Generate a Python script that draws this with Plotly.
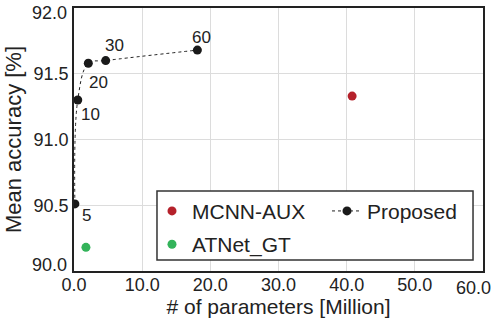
import plotly.graph_objects as go

# Data
prop_params = [0.13, 0.55, 2.1, 4.65, 18.1]
prop_acc = [90.51, 91.30, 91.58, 91.60, 91.68]
prop_labels = ["5", "10", "20", "30", "60"]
mcnn_params = [40.8]
mcnn_acc = [91.33]
atnet_params = [1.75]
atnet_acc = [90.18]
x_ticks = [0, 10, 20, 30, 40, 50, 60]
x_tick_labels = ["0.0", "10.0", "20.0", "30.0", "40.0", "50.0", "60.0"]
y_ticks = [90.0, 90.5, 91.0, 91.5, 92.0]
y_tick_labels = ["90.0", "90.5", "91.0", "91.5", "92.0"]

# label offsets (px)
label_dx = [12, 13, 10, 9, 4]
label_dy = [-12, -14, -19, 15, 13]

FONT = "Liberation Sans, Arial, sans-serif"
TXT = "#222222"
fig = go.Figure()
fig.add_trace(go.Scatter(x=mcnn_params, y=mcnn_acc, mode="markers", name="MCNN-AUX",
                         legend="legend", legendgroup="a",
                         marker=dict(color="#b5212b", size=9)))
fig.add_trace(go.Scatter(x=atnet_params, y=atnet_acc, mode="markers", name="ATNet_GT",
                         legend="legend", legendgroup="b",
                         marker=dict(color="#33b35a", size=9)))
fig.add_trace(go.Scatter(x=prop_params, y=prop_acc, mode="lines+markers", name="Proposed",
                         legend="legend2",
                         line=dict(color="#222222", width=1, dash="dot", shape="spline", smoothing=1),
                         marker=dict(color="#1a1a1a", size=9)))

for x, y, t, dx, dy in zip(prop_params, prop_acc, prop_labels, label_dx, label_dy):
    fig.add_annotation(x=x, y=y, text=t, showarrow=False, xshift=dx, yshift=dy,
                       font=dict(size=17, color=TXT, family=FONT))

# edge tick labels (kept inside the page, as in the reference)
fig.add_annotation(x=x_ticks[-1], y=0, xref="x", yref="paper", text=x_tick_labels[-1],
                   showarrow=False, xanchor="right", yanchor="top", xshift=10, yshift=-5,
                   font=dict(size=18, color=TXT, family=FONT))
fig.add_annotation(x=0, y=y_ticks[-1], xref="paper", yref="y", text=y_tick_labels[-1],
                   showarrow=False, xanchor="right", yanchor="middle", xshift=-5, yshift=-5,
                   font=dict(size=18, color=TXT, family=FONT))
fig.add_annotation(x=0, y=y_ticks[0], xref="paper", yref="y", text=y_tick_labels[0],
                   showarrow=False, xanchor="right", yanchor="middle", xshift=-5, yshift=6,
                   font=dict(size=18, color=TXT, family=FONT))
shown_x = x_tick_labels[:-1] + [""]
shown_y = [""] + y_tick_labels[1:-1] + [""]

# legend frame
fig.add_shape(type="rect", xref="paper", yref="paper", x0=0.2029, x1=0.9756, y0=0.0418, y1=0.304,
              line=dict(color="#333333", width=1.5), fillcolor="white", layer="above")

leg_font = dict(size=21, family=FONT, color=TXT)
fig.update_layout(
    width=494, height=323,
    margin=dict(l=74, r=11, t=8, b=52),
    paper_bgcolor="white", plot_bgcolor="white",
    font=dict(family=FONT, color=TXT),
    legend=dict(x=0.1907, y=0.305, xanchor="left", yanchor="top", tracegroupgap=3,
                bgcolor="rgba(0,0,0,0)", borderwidth=0, font=leg_font),
    legend2=dict(x=0.6186, y=0.305, xanchor="left", yanchor="top",
                 bgcolor="rgba(0,0,0,0)", borderwidth=0, font=leg_font),
    showlegend=True,
)
fig.update_xaxes(range=[0, 60], tickvals=x_ticks, ticktext=shown_x,
                 showgrid=True, gridcolor="#dcdcdc", gridwidth=1, automargin=False,
                 showline=True, linecolor="#222222", linewidth=1.5, mirror=True,
                 zeroline=False, ticks="", tickfont=dict(size=18), ticklabelstandoff=-3,
                 title=dict(text="# of parameters [Million]", font=dict(size=21), standoff=0))
fig.update_yaxes(range=[90, 92], tickvals=y_ticks, ticktext=shown_y,
                 showgrid=True, gridcolor="#dcdcdc", gridwidth=1, automargin=False,
                 showline=True, linecolor="#222222", linewidth=1.5, mirror=True,
                 zeroline=False, ticks="", tickfont=dict(size=18),
                 title=dict(text="Mean accuracy [%]", font=dict(size=22), standoff=6))

fig.write_html("out.html", config={"displayModeBar": False},
               post_script="document.body.style.margin='0';document.body.style.overflow='hidden';")
